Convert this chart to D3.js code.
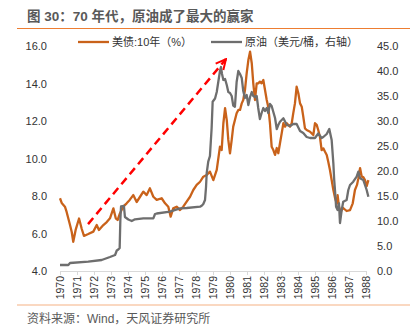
<meta charset="utf-8">
<title>70年代，原油成了最大的赢家</title>
<style>
  body { margin: 0; background: #fff; }
  svg text { font-family: "Liberation Sans", "Noto Sans CJK SC", sans-serif; }
</style>
<svg width="420" height="330"></svg>
<script src="https://d3js.org/d3.v7.min.js"></script>
<script>

// --- data ---
var bondYears = [1970.00,1970.10,1970.29,1970.39,1970.59,1970.69,1970.78,1970.92,1971.12,1971.28,1971.41,1971.66,1971.96,
  1972.16,1972.29,1972.55,1972.75,1972.94,1973.14,1973.28,1973.39,1973.53,1973.72,1973.92,1974.10,1974.31,1974.51,1974.71,1974.90,
  1975.10,1975.29,1975.49,1975.69,1975.98,1976.18,1976.37,1976.51,1976.66,1976.86,1977.06,1977.25,1977.45,1977.65,1977.84,
  1978.04,1978.24,1978.43,1978.63,1978.82,1979.02,1979.22,1979.41,1979.51,1979.61,1979.71,1979.81,1979.90,1980.00,1980.10,
  1980.19,1980.29,1980.39,1980.49,1980.59,1980.69,1980.78,1980.88,1980.98,1981.08,1981.18,1981.28,1981.37,1981.47,1981.57,
  1981.66,1981.76,1981.86,1981.96,1982.06,1982.16,1982.25,1982.35,1982.45,1982.55,1982.65,1982.75,1982.84,1982.94,1983.04,
  1983.14,1983.24,1983.34,1983.43,1983.53,1983.63,1983.72,1983.82,1983.92,1984.02,1984.12,1984.22,1984.31,1984.41,1984.51,
  1984.71,1984.90,1985.00,1985.10,1985.19,1985.29,1985.39,1985.49,1985.59,1985.69,1985.78,1985.88,1985.98,1986.08,1986.18,
  1986.28,1986.33,1986.41,1986.51,1986.57,1986.66,1986.86,1987.06,1987.22,1987.35,1987.47,1987.55,1987.65,1987.75,1987.84,
  1987.94,1988.04,1988.14];
var bondValues = [7.88,7.63,7.43,7.15,6.45,6.08,5.56,6.19,6.80,6.24,5.87,5.97,6.10,
  6.45,6.19,6.45,6.61,6.81,7.34,6.81,6.72,7.08,7.43,7.61,7.79,8.05,7.68,7.96,8.23,
  8.05,8.41,7.96,7.79,7.88,7.61,7.43,6.90,7.34,7.43,7.25,7.43,7.70,7.96,8.32,
  8.59,8.76,9.03,9.12,9.30,8.85,9.39,10.63,10.45,11.88,12.68,12.05,10.99,10.28,10.99,
  11.70,12.05,12.41,12.59,12.59,12.94,13.12,13.65,14.54,15.25,15.70,15.08,14.01,13.12,14.01,
  14.01,14.10,14.01,14.19,13.65,13.12,12.76,11.88,10.63,10.45,10.19,10.56,10.28,10.81,11.34,
  11.88,11.70,11.88,11.79,11.70,11.88,12.41,12.94,13.83,13.48,12.94,12.76,12.23,11.61,11.52,
  11.43,11.25,11.88,11.79,11.52,11.16,10.45,10.54,10.36,10.19,9.83,9.39,8.85,8.32,7.89,
  7.61,8.05,7.43,7.15,7.25,7.36,7.20,7.25,7.61,8.32,8.59,8.94,9.49,9.03,9.01,
  8.85,8.53,8.85];

var oilYears = [1970.00,1970.49,1970.59,1971.66,1972.45,1972.94,1973.24,1973.34,1973.43,1973.51,1973.55,1973.59,1973.76,1973.82,
  1974.02,1974.22,1974.41,1974.90,1975.49,1975.59,1975.69,1976.47,1977.06,1977.45,1978.24,1978.35,1978.43,1978.53,1978.59,
  1978.63,1978.72,1978.82,1978.92,1978.98,1979.12,1979.22,1979.31,1979.41,1979.47,1979.53,1979.61,1979.71,1979.81,1979.90,
  1980.00,1980.10,1980.19,1980.29,1980.39,1980.49,1980.59,1980.69,1980.78,1980.88,1980.98,1981.08,1981.18,1981.28,1981.37,
  1981.47,1981.57,1981.66,1981.76,1981.86,1981.96,1982.06,1982.16,1982.25,1982.35,1982.45,1982.55,1982.65,1982.75,1982.84,
  1982.94,1983.14,1983.34,1983.53,1983.72,1983.92,1984.12,1984.31,1984.51,1984.71,1985.00,1985.19,1985.39,1985.49,1985.69,
  1985.84,1985.98,1986.08,1986.13,1986.18,1986.24,1986.33,1986.41,1986.47,1986.57,1986.66,1986.86,1986.96,1987.06,1987.25,
  1987.45,1987.55,1987.65,1987.84,1988.04,1988.14];
var oilValues = [1.20,1.20,1.60,1.86,2.20,2.80,3.20,4.10,4.30,4.60,10.20,12.90,13.00,10.80,
  10.30,10.00,10.34,10.54,10.54,11.40,11.50,11.86,12.54,12.60,12.86,13.10,13.40,14.20,16.80,
  19.60,21.86,23.00,28.60,33.86,34.50,35.80,37.80,40.00,40.80,39.40,38.20,38.40,37.20,35.80,
  35.60,35.00,33.10,32.86,37.80,40.00,39.40,38.60,36.00,34.60,35.20,33.20,34.80,35.80,35.00,
  34.80,35.00,32.60,30.40,31.60,32.60,32.00,32.60,31.60,33.40,33.00,31.80,30.60,28.40,29.20,
  29.86,30.54,29.20,29.00,29.40,29.40,28.00,27.60,26.80,26.60,26.60,27.50,26.60,26.80,27.40,
  28.40,26.20,21.54,18.20,16.00,12.86,12.20,13.54,9.60,12.20,13.86,14.20,16.20,17.20,17.86,
  18.86,19.86,18.54,18.20,16.20,14.86];

var yearTicks = d3.range(1970, 1989);
var leftTicks = [4, 6, 8, 10, 12, 14, 16];
var rightTicks = [0, 5, 10, 15, 20, 25, 30, 35, 40, 45];
var seriesNames = ["美债:10年（%）", "原油（美元/桶，右轴）"];
// dashed arrow, in (year, left-axis value)
var arrowFrom = [1971.65, 6.5];
var arrowTo = [1979.76, 15.3];

var bond = bondYears.map(function(d, i) { return { t: d, v: bondValues[i] }; });
var oil = oilYears.map(function(d, i) { return { t: d, v: oilValues[i] }; });

var svg = d3.select("svg");

var x = d3.scaleLinear().domain([1970, 1988]).range([60, 366]);
var yL = d3.scaleLinear().domain([4, 16]).range([271, 46]);
var yR = d3.scaleLinear().domain([0, 45]).range([271, 46]);

// title + rules
svg.append("text")
  .attr("x", 27).attr("y", 21)
  .attr("font-size", 13.5).attr("font-weight", "bold")
  .attr("fill", "#595959")
  .text("图 30：70 年代，原油成了最大的赢家");
svg.append("line")
  .attr("x1", 17).attr("x2", 410).attr("y1", 28.5).attr("y2", 28.5)
  .attr("stroke", "#ED7D31").attr("stroke-width", 1);
svg.append("line")
  .attr("x1", 17).attr("x2", 410).attr("y1", 305).attr("y2", 305)
  .attr("stroke", "#F8CBAD").attr("stroke-width", 1.5);
svg.append("text")
  .attr("x", 27).attr("y", 323)
  .attr("font-size", 12).attr("fill", "#595959")
  .text("资料来源：Wind，天风证券研究所");

// left axis
var axL = svg.append("g")
  .attr("transform", "translate(52,0)")
  .call(d3.axisLeft(yL).tickValues(leftTicks).tickFormat(d3.format(".1f")).tickSize(0).tickPadding(5));
axL.select(".domain").remove();
axL.selectAll("text").attr("font-size", 11).attr("fill", "#333")
  .style("font-family", "'Liberation Sans', sans-serif");

// right axis
var axR = svg.append("g")
  .attr("transform", "translate(372,0)")
  .call(d3.axisRight(yR).tickValues(rightTicks).tickFormat(d3.format(".1f")).tickSize(0).tickPadding(5));
axR.select(".domain").remove();
axR.selectAll("text").attr("font-size", 11).attr("fill", "#333")
  .style("font-family", "'Liberation Sans', sans-serif");

// x axis
var axX = svg.append("g")
  .attr("transform", "translate(0,271)")
  .call(d3.axisBottom(x).tickValues(yearTicks).tickFormat(d3.format("d")).tickSize(4).tickSizeOuter(0));
axX.select(".domain").attr("stroke", "#D9D9D9");
axX.selectAll(".tick line").attr("stroke", "#D9D9D9");
axX.selectAll("text")
  .attr("font-size", 10.5).attr("fill", "#333")
  .style("font-family", "'Liberation Sans', sans-serif")
  .attr("text-anchor", "end")
  .attr("transform", "rotate(-90)")
  .attr("x", -5).attr("y", 0).attr("dy", "0.35em");

// lines
var lineL = d3.line().x(function(d) { return x(d.t); }).y(function(d) { return yL(d.v); });
var lineR = d3.line().x(function(d) { return x(d.t); }).y(function(d) { return yR(d.v); });

svg.append("path").datum(bond)
  .attr("d", lineL).attr("fill", "none")
  .attr("stroke", "#C9621A").attr("stroke-width", 2.3).attr("stroke-linejoin", "round");
svg.append("path").datum(oil)
  .attr("d", lineR).attr("fill", "none")
  .attr("stroke", "#6E6E6E").attr("stroke-width", 2.3).attr("stroke-linejoin", "round");

// red dashed arrow
svg.append("defs").append("marker")
  .attr("id", "head")
  .attr("viewBox", "0 0 10 10").attr("refX", 9).attr("refY", 5)
  .attr("markerWidth", 5).attr("markerHeight", 5)
  .attr("markerUnits", "strokeWidth")
  .attr("orient", "auto")
  .append("path")
  .attr("d", "M1,1 L9,5 L1,9")
  .attr("fill", "none").attr("stroke", "#FF0000").attr("stroke-width", 1.6);

svg.append("line")
  .attr("x1", x(arrowFrom[0])).attr("y1", yL(arrowFrom[1]))
  .attr("x2", x(arrowTo[0])).attr("y2", yL(arrowTo[1]))
  .attr("stroke", "#FF0000").attr("stroke-width", 2.5)
  .attr("stroke-dasharray", "8,5")
  .attr("marker-end", "url(#head)");

// legend
var legend = svg.append("g");
var legItems = [
  { name: seriesNames[0], color: "#C9621A", x0: 78 },
  { name: seriesNames[1], color: "#6E6E6E", x0: 211 }
];
legItems.forEach(function(it) {
  legend.append("line")
    .attr("x1", it.x0).attr("x2", it.x0 + 31).attr("y1", 42).attr("y2", 42)
    .attr("stroke", it.color).attr("stroke-width", 2.3);
  legend.append("text")
    .attr("x", it.x0 + 34).attr("y", 46)
    .attr("font-size", 11).attr("fill", "#333")
    .text(it.name);
});

</script>
